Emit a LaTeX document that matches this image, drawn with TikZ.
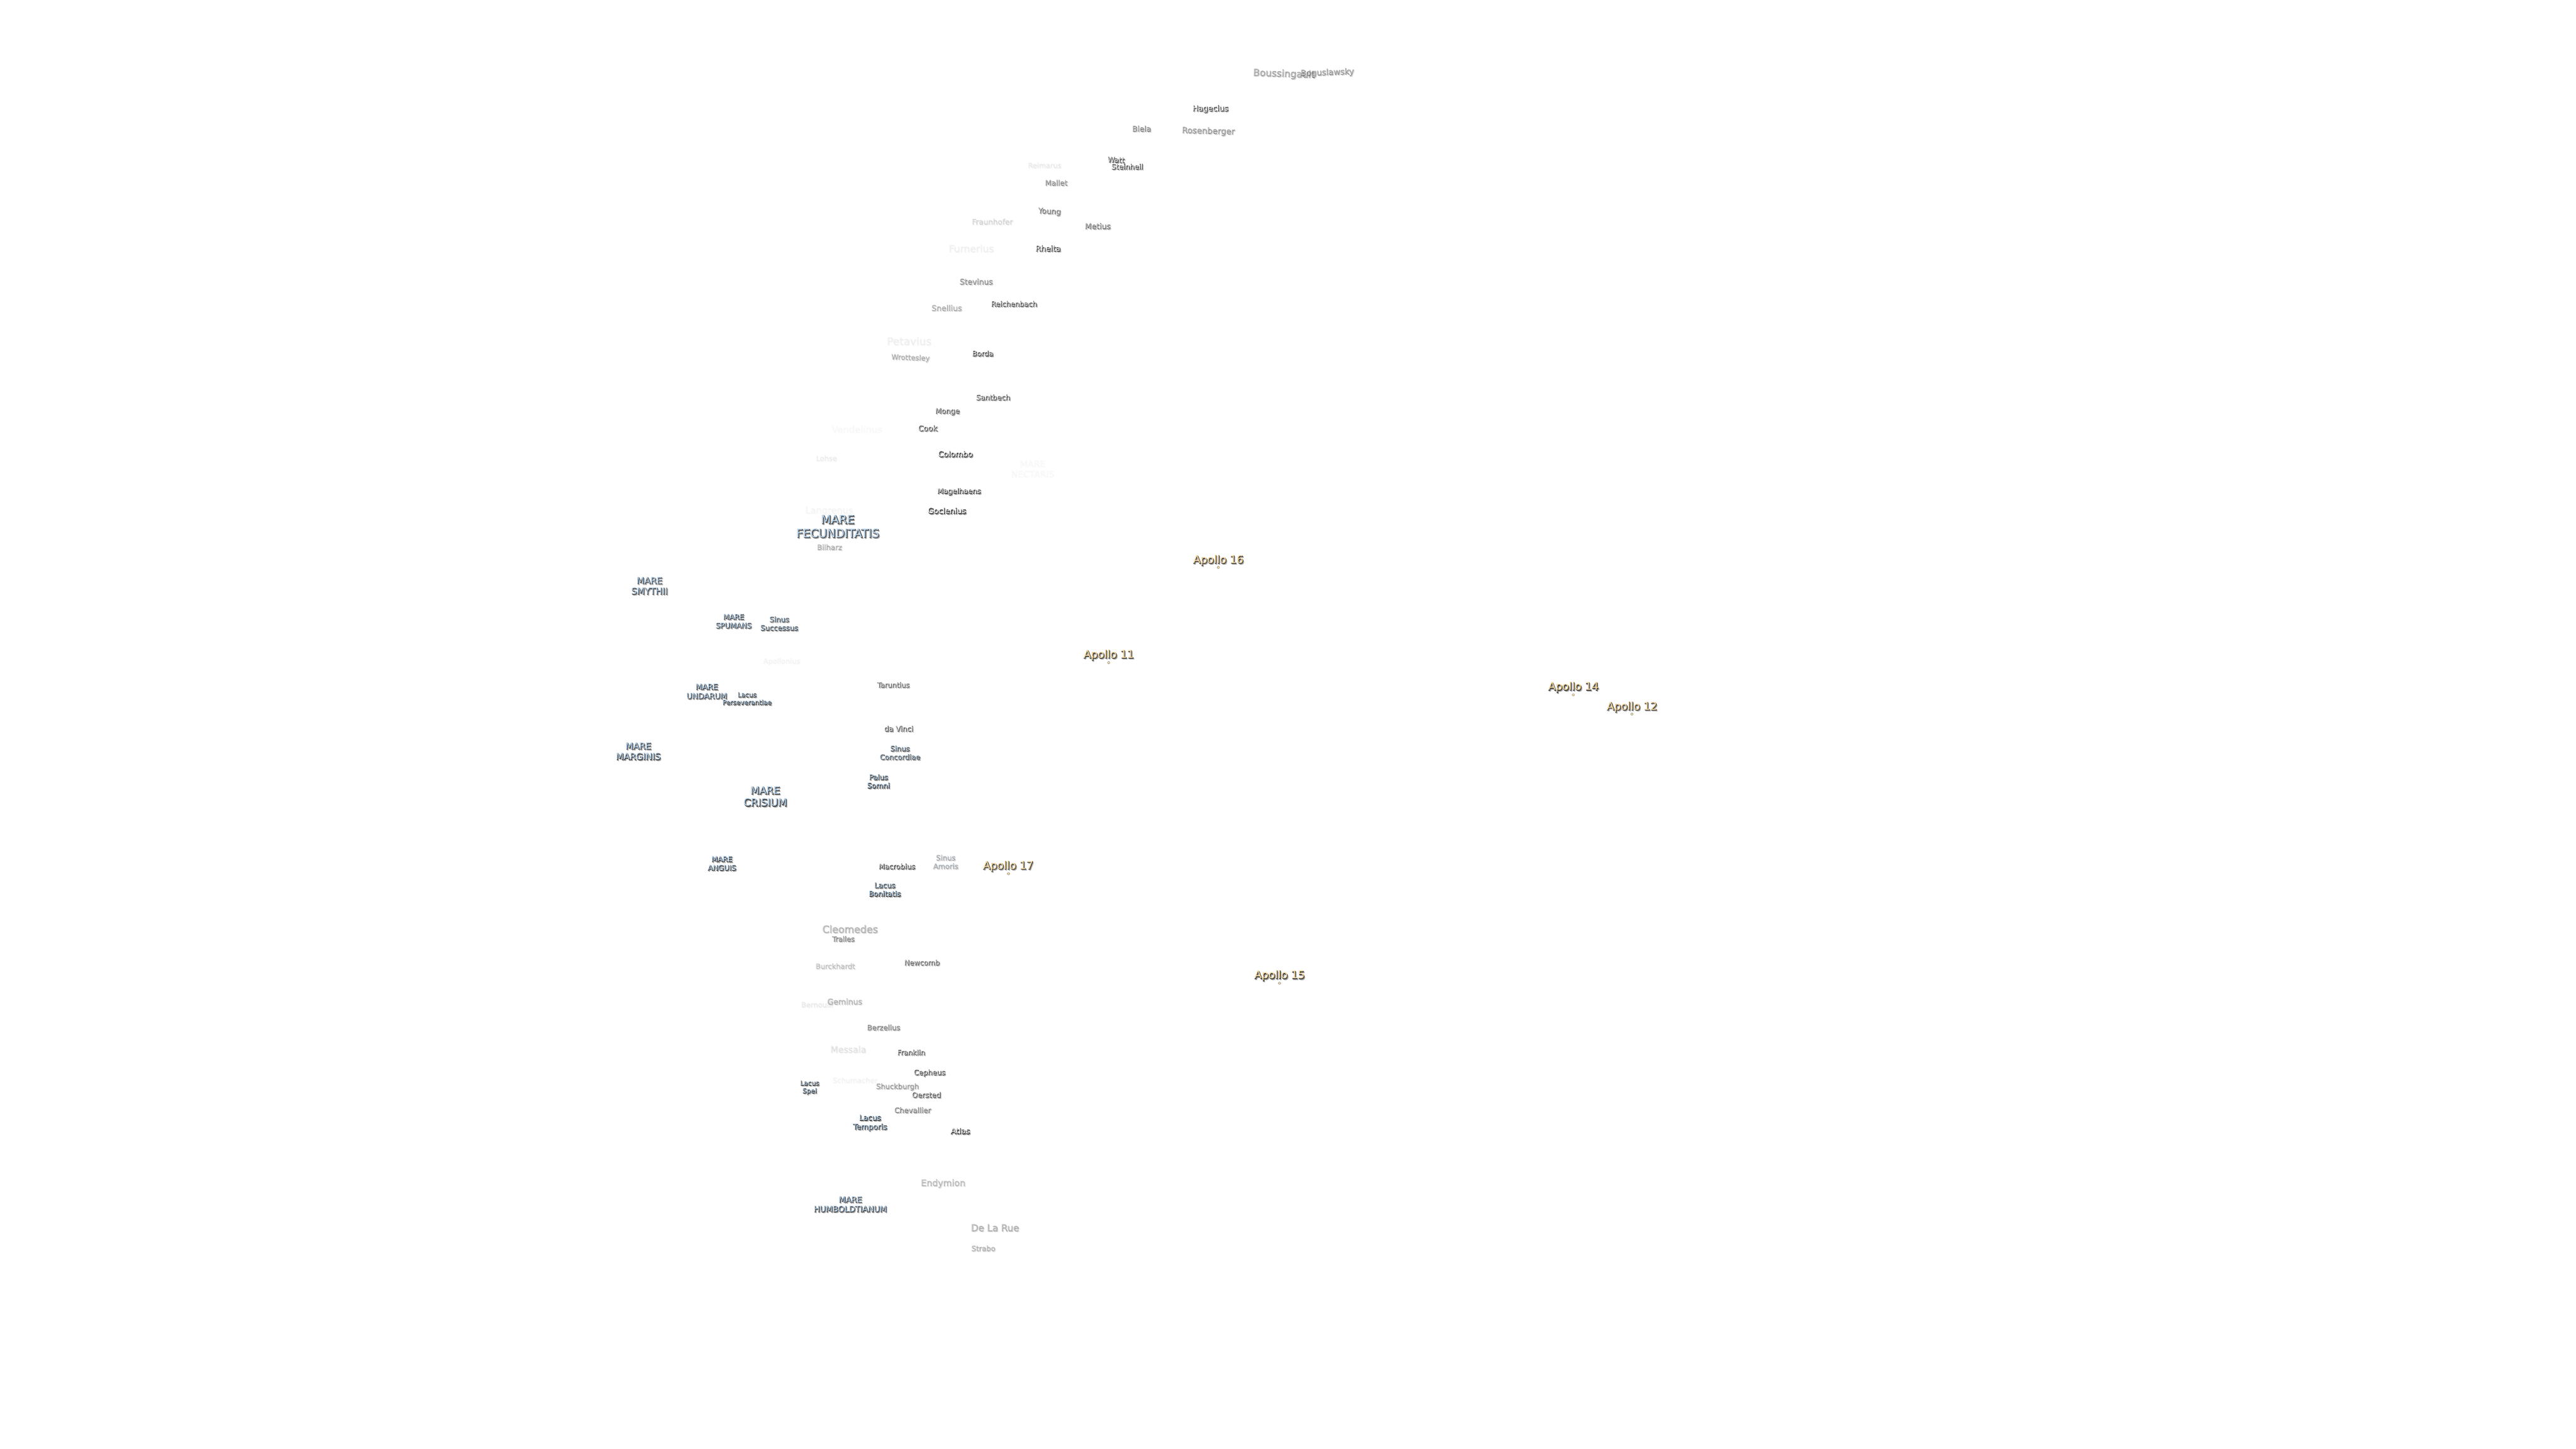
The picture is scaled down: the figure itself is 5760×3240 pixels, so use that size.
\documentclass[tikz,border=0pt]{standalone}
\usepackage{fontspec}
\setmainfont{DejaVu Sans}
\newfontfamily\moonheavy{DejaVu Sans}[FakeBold=5]

\definecolor{marefill}{HTML}{BDD9F2}
\definecolor{apollofill}{HTML}{FFDFA6}

% one moon label: two shadow copies, then the text itself
\newcommand{\moonlabel}[7][]{%
    \pgfmathsetmacro{\fsz}{#6/4}%
    \pgfmathsetmacro{\fskip}{#6/4*1.18}%
    \pgfmathsetmacro{\fop}{#4*0.5}%
    \pgfmathsetmacro{\nop}{#4*0.8}%
    \path (#5) ++(2.6,2.6) node[moon text, #1, text=black!55, text opacity=\fop, font=\fontsize{\fsz}{\fskip}\moonheavy\selectfont] (#2-far) {#7};
    \path (#5) ++(0.8,0.8) node[moon text, #1, text=black!80, text opacity=\nop, font=\fontsize{\fsz}{\fskip}\moonheavy\selectfont] (#2-near) {#7};
    \node[moon text, #1, #3, text opacity=#4, font=\fontsize{\fsz}{\fskip}\selectfont] (#2) at (#5) {#7};
}

\begin{document}
\begin{tikzpicture}[
            x=0.25pt, y=-0.25pt,
            moon text/.style={inner sep=0pt, align=center},
            crater/.style={text=white},
            mare/.style={text=marefill},
            site/.style={text=apollofill},
            site dot/.style={circle, fill=apollofill, draw=black!70, line width=0.1pt, inner sep=0pt, minimum size=1.3pt},
            ]
            \useasboundingbox (0,0) rectangle (5760,3240);

            % far south
            \moonlabel[rotate=-2]{boussingault}{crater}{0.35}{2870,165}{21.4}{Boussingault}
            \moonlabel[rotate=2]{boguslawsky}{crater}{0.4}{2967,162}{18.5}{Boguslawsky}
            \moonlabel{hagecius}{crater}{1}{2706,243}{17.4}{Hagecius}
            \moonlabel{biela}{crater}{0.5}{2552,287}{17}{Biela}
            \moonlabel[rotate=-1.5]{rosenberger}{crater}{0.4}{2701,293}{18.6}{Rosenberger}
            \moonlabel[rotate=-3]{watt}{crater}{0.9}{2495,357}{16.4}{Watt}
            \moonlabel{steinheil}{crater}{1}{2520,372}{16.2}{Steinheil}
            \moonlabel{reimarus}{crater}{0.07}{2335,369}{15.8}{Reimarus}
            \moonlabel{mallet}{crater}{0.45}{2361,408}{16.4}{Mallet}
            \moonlabel[rotate=-3]{young}{crater}{0.6}{2346,473}{16.9}{Young}
            \moonlabel{fraunhofer}{crater}{0.14}{2218,495}{16.8}{Fraunhofer}
            \moonlabel{metius}{crater}{0.55}{2454,505}{17.4}{Metius}
            \moonlabel{rheita}{crater}{0.95}{2343,555}{17.4}{Rheita}
            \moonlabel{furnerius}{crater}{0.05}{2171,555}{21.7}{Furnerius}
            \moonlabel{stevinus}{crater}{0.45}{2182,629}{17.2}{Stevinus}
            \moonlabel{reichenbach}{crater}{0.8}{2267,679}{16}{Reichenbach}
            \moonlabel{snellius}{crater}{0.3}{2116,688}{17.5}{Snellius}
            \moonlabel{petavius}{crater}{0.05}{2032,762}{23.6}{Petavius}
            \moonlabel[rotate=-2]{wrottesley}{crater}{0.3}{2035,800}{16}{Wrottesley}
            \moonlabel{borda}{crater}{0.85}{2197,790}{16}{Borda}
            \moonlabel{santbech}{crater}{0.9}{2220,888}{16.2}{Santbech}
            \moonlabel{monge}{crater}{0.8}{2118,920}{16.2}{Monge}
            \moonlabel{cook}{crater}{0.85}{2074,957}{17}{Cook}
            \moonlabel{vendelinus}{crater}{0.02}{1915,959}{20.8}{Vendelinus}
            \moonlabel{colombo}{crater}{1}{2136,1015}{17.5}{Colombo}
            \moonlabel{lohse}{crater}{0.06}{1847,1024}{16}{Lohse}
            \moonlabel{nectaris}{mare}{0.02}{2308,1048}{19.6}{MARE\\NECTARIS}
            \moonlabel{magelhaens}{crater}{0.95}{2144,1099}{16.2}{Magelhaens}
            \moonlabel{goclenius}{crater}{1}{2117,1142}{17.5}{Goclenius}
            \moonlabel{langrenus}{crater}{0.03}{1853,1142}{20.4}{Langrenus}
            \moonlabel{fecunditatis}{mare}{1}{1873,1177}{26}{MARE\\FECUNDITATIS}
            \moonlabel{bilharz}{crater}{0.3}{1854,1223}{16.3}{Bilharz}

            % middle
            \moonlabel{smythii}{mare}{0.9}{1452,1310}{20}{MARE\\SMYTHII}
            \moonlabel{spumans}{mare}{1}{1640,1389}{16.3}{MARE\\SPUMANS}
            \moonlabel{successus}{mare}{0.85}{1742,1394}{16.2}{Sinus\\Successus}
            \moonlabel{apollonius}{crater}{0.04}{1747,1479}{16}{Apollonius}
            \moonlabel{taruntius}{crater}{0.7}{1997,1531}{15.8}{Taruntius}
            \moonlabel{undarum}{mare}{1}{1580,1546}{17.4}{MARE\\UNDARUM}
            \moonlabel{perseverantiae}{mare}{0.95}{1670,1562}{14.6}{Lacus\\Perseverantiae}
            \moonlabel{davinci}{crater}{0.8}{2009,1629}{16.3}{da Vinci}
            \moonlabel{concordiae}{mare}{0.8}{2012,1683}{16}{Sinus\\Concordiae}
            \moonlabel{marginis}{mare}{1}{1427,1680}{20}{MARE\\MARGINIS}
            \moonlabel{somni}{mare}{1}{1964,1747}{16.1}{Palus\\Somni}
            \moonlabel{crisium}{mare}{1}{1711,1781}{23}{MARE\\CRISIUM}
            \moonlabel{anguis}{mare}{1}{1614,1931}{16.3}{MARE\\ANGUIS}
            \moonlabel{macrobius}{crater}{0.9}{2005,1937}{16}{Macrobius}
            \moonlabel{amoris}{mare}{0.3}{2114,1927}{16.1}{Sinus\\Amoris}
            \moonlabel{bonitatis}{mare}{1}{1978,1989}{16.2}{Lacus\\Bonitatis}

            % north
            \moonlabel{cleomedes}{crater}{0.28}{1900,2077}{22.3}{Cleomedes}
            \moonlabel{tralles}{crater}{0.55}{1885,2099}{15.7}{Tralles}
            \moonlabel{burckhardt}{crater}{0.22}{1867,2160}{16}{Burckhardt}
            \moonlabel{newcomb}{crater}{0.7}{2061,2152}{16}{Newcomb}
            \moonlabel{bernoulli}{crater}{0.07}{1826,2246}{16}{Bernoulli}
            \moonlabel{geminus}{crater}{0.28}{1888,2239}{17.6}{Geminus}
            \moonlabel{berzelius}{crater}{0.55}{1975,2297}{16.2}{Berzelius}
            \moonlabel{messala}{crater}{0.09}{1896,2346}{19.8}{Messala}
            \moonlabel{franklin}{crater}{0.75}{2037,2353}{15.8}{Franklin}
            \moonlabel{cepheus}{crater}{0.85}{2078,2399}{16.2}{Cepheus}
            \moonlabel{schumacher}{crater}{0.04}{1911,2415}{16}{Schumacher}
            \moonlabel{shuckburgh}{crater}{0.4}{2006,2430}{16}{Shuckburgh}
            \moonlabel{oersted}{crater}{0.8}{2071,2448}{16.3}{Oersted}
            \moonlabel{spei}{mare}{0.9}{1810,2432}{14.7}{Lacus\\Spei}
            \moonlabel{chevallier}{crater}{0.5}{2040,2482}{16.3}{Chevallier}
            \moonlabel{temporis}{mare}{1}{1945,2511}{16.9}{Lacus\\Temporis}
            \moonlabel{atlas}{crater}{1}{2147,2529}{17.4}{Atlas}
            \moonlabel{endymion}{crater}{0.25}{2108,2646}{19.9}{Endymion}
            \moonlabel{humboldtianum}{mare}{1}{1901,2693}{18}{MARE\\HUMBOLDTIANUM}
            \moonlabel{delarue}{crater}{0.3}{2224,2745}{21.1}{De La Rue}
            \moonlabel{strabo}{crater}{0.3}{2198,2791}{16.2}{Strabo}

            % landing sites
            \moonlabel{apollo16}{site}{1}{2724,1253}{24}{Apollo 16}
            \moonlabel{apollo11}{site}{1}{2479,1465}{24}{Apollo 11}
            \moonlabel{apollo14}{site}{1}{3518,1537}{24}{Apollo 14}
            \moonlabel{apollo12}{site}{1}{3649,1581}{24}{Apollo 12}
            \moonlabel{apollo17}{site}{1}{2254,1937}{24}{Apollo 17}
            \moonlabel{apollo15}{site}{1}{2861,2182}{24}{Apollo 15}
            \node[site dot] (dot16) at (2724,1269) {};
            \node[site dot] (dot11) at (2479,1482) {};
            \node[site dot] (dot14) at (3518,1554) {};
            \node[site dot] (dot12) at (3649,1597) {};
            \node[site dot] (dot17) at (2255,1954) {};
            \node[site dot] (dot15) at (2861,2199) {};
        \end{tikzpicture}
\end{document}
